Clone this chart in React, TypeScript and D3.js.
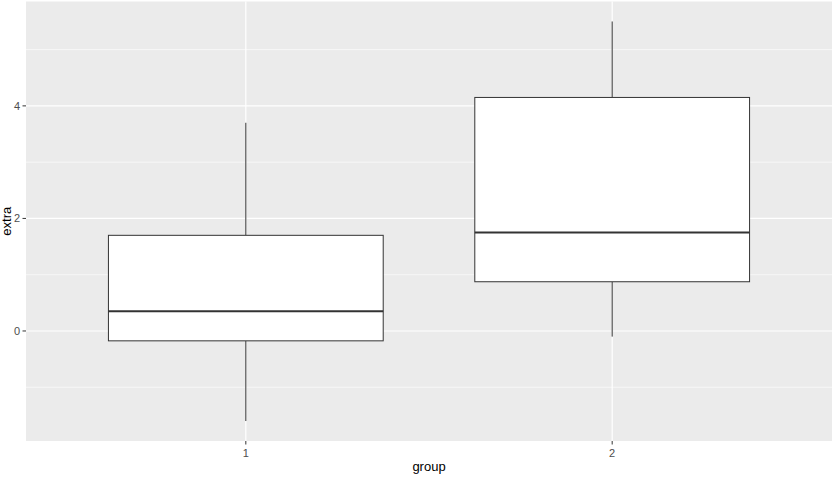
import React from "react";
import * as d3 from "d3";

const groups = ["1", "2"];
const lowerWhisker = [-1.6, -0.1];
const q1 = [-0.175, 0.875];
const medians = [0.35, 1.75];
const q3 = [1.7, 4.15];
const upperWhisker = [3.7, 5.5];
const yTicks = [0, 2, 4];
const yMinor = [-1, 1, 3, 5];

const W = 837;
const H = 479;
const panel = { left: 26, top: 1.5, right: 832, bottom: 441 };

export default function App() {
  const xi = d3.scaleLinear().domain([0.4, 2.6]).range([panel.left, panel.right]);
  const ymin = -1.6, ymax = 5.5;
  const ex = (ymax - ymin) * 0.05;
  const y = d3.scaleLinear().domain([ymin - ex, ymax + ex]).range([panel.bottom, panel.top]);
  const bw = xi(1.375) - xi(0.625);
  const font = "Liberation Sans, Arial, sans-serif";

  return (
    <svg
      width={W}
      height={H}
      style={{ position: "absolute", left: 0, top: 0, background: "#fff" }}
    >
      <rect x={panel.left} y={panel.top} width={panel.right - panel.left} height={panel.bottom - panel.top} fill="#EBEBEB" />
      {yMinor.map((t) => (
        <line key={"m" + t} x1={panel.left} x2={panel.right} y1={y(t)} y2={y(t)} stroke="#fff" strokeWidth={0.6} />
      ))}
      {yTicks.map((t) => (
        <line key={"g" + t} x1={panel.left} x2={panel.right} y1={y(t)} y2={y(t)} stroke="#fff" strokeWidth={1.2} />
      ))}
      {groups.map((g, i) => (
        <line key={"gx" + g} x1={xi(i + 1)} x2={xi(i + 1)} y1={panel.top} y2={panel.bottom} stroke="#fff" strokeWidth={1.2} />
      ))}
      {groups.map((g, i) => {
        const cx = xi(i + 1);
        return (
          <g key={"b" + g}>
            <line x1={cx} x2={cx} y1={y(upperWhisker[i])} y2={y(q3[i])} stroke="#333" strokeWidth={1} />
            <line x1={cx} x2={cx} y1={y(q1[i])} y2={y(lowerWhisker[i])} stroke="#333" strokeWidth={1} />
            <rect x={cx - bw / 2} y={y(q3[i])} width={bw} height={y(q1[i]) - y(q3[i])} fill="#fff" stroke="#333" strokeWidth={1} />
            <line x1={cx - bw / 2} x2={cx + bw / 2} y1={y(medians[i])} y2={y(medians[i])} stroke="#333" strokeWidth={2} />
          </g>
        );
      })}
      {yTicks.map((t) => (
        <g key={"yt" + t}>
          <line x1={panel.left - 3.5} x2={panel.left} y1={y(t)} y2={y(t)} stroke="#333" strokeWidth={1} />
          <text x={panel.left - 6} y={y(t)} dy="0.35em" textAnchor="end" fontSize={11} fill="#4D4D4D" fontFamily={font}>
            {t}
          </text>
        </g>
      ))}
      {groups.map((g, i) => (
        <g key={"xt" + g}>
          <line x1={xi(i + 1)} x2={xi(i + 1)} y1={panel.bottom} y2={panel.bottom + 3.5} stroke="#333" strokeWidth={1} />
          <text x={xi(i + 1)} y={panel.bottom + 15.5} textAnchor="middle" fontSize={11} fill="#4D4D4D" fontFamily={font}>
            {g}
          </text>
        </g>
      ))}
      <text x={(panel.left + panel.right) / 2} y={471} textAnchor="middle" fontSize={13} fill="#000" fontFamily={font}>
        group
      </text>
      <text transform={`translate(11,${(panel.top + panel.bottom) / 2}) rotate(-90)`} textAnchor="middle" fontSize={13} fill="#000" fontFamily={font}>
        extra
      </text>
    </svg>
  );
}
